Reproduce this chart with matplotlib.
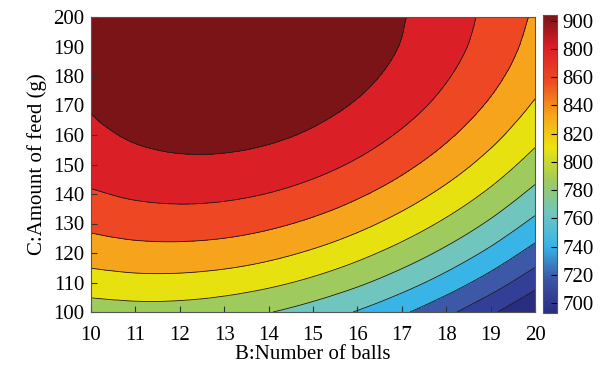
import numpy as np
import matplotlib
matplotlib.use("Agg")
import matplotlib.pyplot as plt
import matplotlib.tri as mtri
from matplotlib.colors import LinearSegmentedColormap, Normalize
from matplotlib.cm import ScalarMappable

# B: number of balls, C: amount of feed (g)
balls = [10, 11, 12, 13, 14, 15, 16, 17, 18, 19, 20]
feed = [100, 110, 120, 130, 140, 150, 160, 170, 180, 190, 200]

# response, one row per feed value (100 -> 200)
response = [
    [789.9, 792.0, 791.2, 787.4, 780.8, 771.2, 758.7, 743.2, 724.9, 703.6, 679.4],
    [810.8, 813.6, 813.5, 810.4, 804.4, 795.5, 783.7, 768.9, 751.2, 730.6, 707.0],
    [829.1, 832.6, 833.1, 830.8, 825.5, 817.2, 806.0, 791.9, 774.9, 755.0, 732.1],
    [844.8, 849.0, 850.2, 848.5, 843.8, 836.2, 825.8, 812.3, 796.0, 776.7, 754.5],
    [857.9, 862.7, 864.6, 863.5, 859.5, 852.6, 842.8, 830.1, 814.4, 795.8, 774.2],
    [868.3, 873.7, 876.3, 875.9, 872.6, 866.4, 857.3, 845.2, 830.2, 812.2, 791.4],
    [876.0, 882.2, 885.4, 885.7, 883.1, 877.5, 869.0, 857.6, 843.3, 826.0, 805.8],
    [881.1, 888.0, 891.9, 892.8, 890.9, 886.0, 878.2, 867.5, 853.8, 837.2, 817.7],
    [883.6, 891.1, 895.7, 897.3, 896.1, 891.8, 884.7, 874.6, 861.6, 845.7, 826.9],
    [883.5, 891.6, 896.9, 899.2, 898.6, 895.0, 888.6, 879.2, 866.9, 851.6, 833.4],
    [880.7, 889.5, 895.4, 898.4, 898.5, 895.6, 889.8, 881.1, 869.4, 854.9, 837.4],
]

levels = [660, 700, 720, 740, 760, 780, 800, 820, 840, 860, 880, 920]
cbar_ticks = [700, 720, 740, 760, 780, 800, 820, 840, 860, 880, 900]
cbar_labels = ["700", "720", "740", "760", "780", "800", "820", "840", "860", "800", "900"]

fill_colors = ["#292d80", "#333f97", "#3c58a7", "#38b4e6", "#70c6bf", "#9fcb5e",
               "#e7e20f", "#f6a41b", "#ed4723", "#da1f26", "#7b1416"]
bar_colors = ["#2a2d84", "#3b55a4", "#36b3e8", "#6ec6c0", "#9fcb5c", "#ece40f",
              "#f7a31b", "#ee4a23", "#de1f26", "#7a1416"]

plt.rcParams["font.family"] = ["Liberation Serif", "DejaVu Serif"]
plt.rcParams["font.size"] = 15

fig = plt.figure(figsize=(6.01, 3.68), dpi=100)
ax = fig.add_axes([91 / 601, 1 - 312 / 368, 444 / 601, 295 / 368])

BB, CC = np.meshgrid(balls, feed)
z = np.array(response).ravel()
tri = mtri.Triangulation((BB.ravel() - 15) / 5.0, (CC.ravel() - 150) / 50.0)
refiner = mtri.UniformTriRefiner(tri)
interp = mtri.CubicTriInterpolator(tri, z, kind="geom")
tri_f, z_f = refiner.refine_field(z, interp, subdiv=4)
tri_f.x = tri_f.x * 5.0 + 15
tri_f.y = tri_f.y * 50.0 + 150

ax.tricontourf(tri_f, z_f, levels=levels, colors=fill_colors)
ax.tricontour(tri_f, z_f, levels=levels[1:-1], colors="#1a1a1a", linewidths=0.6)

ax.set_xlim(10, 20)
ax.set_ylim(100, 200)
ax.set_xticks(balls)
ax.set_yticks(feed)
ax.tick_params(direction="in", length=4, width=0.8, colors="#333333", labelcolor="black")
ax.tick_params(axis="x", pad=10)
ax.tick_params(axis="y", pad=5)
for s in ax.spines.values():
    s.set_color("#555555")
    s.set_linewidth(0.8)
ax.set_xlabel("B:Number of balls", labelpad=0)
ax.set_ylabel("C:Amount of feed (g)", labelpad=4)

cax = fig.add_axes([543 / 601, 1 - 313 / 368, 14 / 601, 298 / 368])
cmap = LinearSegmentedColormap.from_list("rsm", bar_colors)
sm = ScalarMappable(norm=Normalize(693, 904), cmap=cmap)
cb = fig.colorbar(sm, cax=cax, ticks=cbar_ticks)
cb.set_ticklabels(cbar_labels)
cb.ax.tick_params(direction="in", length=4, width=0.8, pad=4)
cb.outline.set_edgecolor("#555555")
cb.outline.set_linewidth(0.8)

fig.savefig("out.png", dpi=100)
